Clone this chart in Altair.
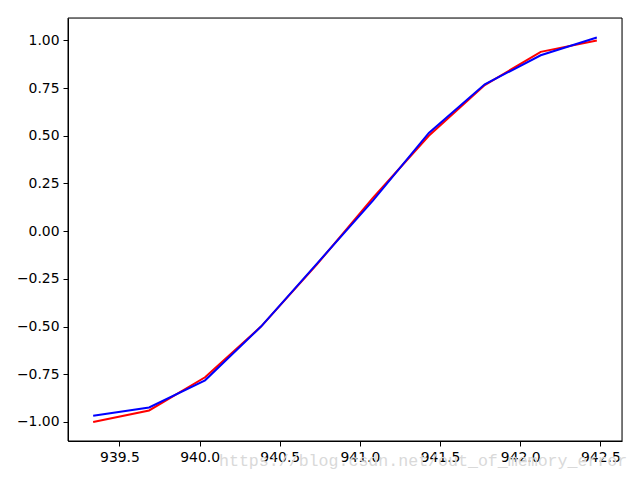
import altair as alt
import pandas as pd

x_vals = [939.336, 939.685, 940.034, 940.383, 940.732, 941.081, 941.430, 941.779, 942.128, 942.478]
red_vals = [-1.000, -0.940, -0.766, -0.500, -0.174, 0.174, 0.500, 0.766, 0.940, 1.000]
blue_vals = [-0.968, -0.924, -0.782, -0.500, -0.170, 0.160, 0.515, 0.770, 0.922, 1.015]
x_ticks = [939.5, 940.0, 940.5, 941.0, 941.5, 942.0, 942.5]
y_ticks = [-1.0, -0.75, -0.5, -0.25, 0.0, 0.25, 0.5, 0.75, 1.0]
watermark = "https://blog.csdn.net/out_of_memory_error"

rows = []
for x, r in zip(x_vals, red_vals):
    rows.append({"x": x, "y": r, "s": "red", "o": 0})
for x, b in zip(x_vals, blue_vals):
    rows.append({"x": x, "y": b, "s": "blue", "o": 1})
df = pd.DataFrame(rows)

xscale = alt.Scale(domain=[939.179, 942.635], nice=False, zero=False)
yscale = alt.Scale(domain=[-1.1, 1.1175], nice=False, zero=False)

axis_common = dict(
    domainColor="black", tickColor="black", labelColor="black",
    labelFont="DejaVu Sans", labelFontSize=13.9, tickSize=5, grid=False,
    domainWidth=1, tickWidth=1, labelPadding=4, title=None,
)

lines = alt.Chart(df).mark_line(strokeWidth=2, clip=True).encode(
    x=alt.X("x:Q", scale=xscale,
            axis=alt.Axis(values=x_ticks, format=".1f", **axis_common)),
    y=alt.Y("y:Q", scale=yscale,
            axis=alt.Axis(values=y_ticks, format=".2f", **axis_common)),
    color=alt.Color("s:N", scale=alt.Scale(domain=["red", "blue"], range=["#ff0000", "#0000ff"]), legend=None),
    order=alt.Order("x:Q"),
    detail="o:N",
)

frame = alt.Chart(pd.DataFrame({"a": [0]})).mark_rect(
    filled=False, stroke="black", strokeWidth=1, fill=None,
).encode(x=alt.value(0), x2=alt.value(554), y=alt.value(0), y2=alt.value(423))

wm = alt.Chart(pd.DataFrame({"t": [watermark]})).mark_text(
    font="Liberation Mono", fontSize=16.6, color="#d9d9d9", align="left", baseline="alphabetic",
).encode(x=alt.value(151), y=alt.value(448), text="t:N")

chart = alt.layer(wm, frame, lines).properties(
    width=554, height=423,
    autosize=alt.AutoSizeParams(type="none"),
    padding={"left": 60, "top": 10, "right": 10, "bottom": 40},
).configure_view(stroke=None).configure(background="white")

chart.save("out.html", embed_options={"renderer": "svg", "actions": False})
